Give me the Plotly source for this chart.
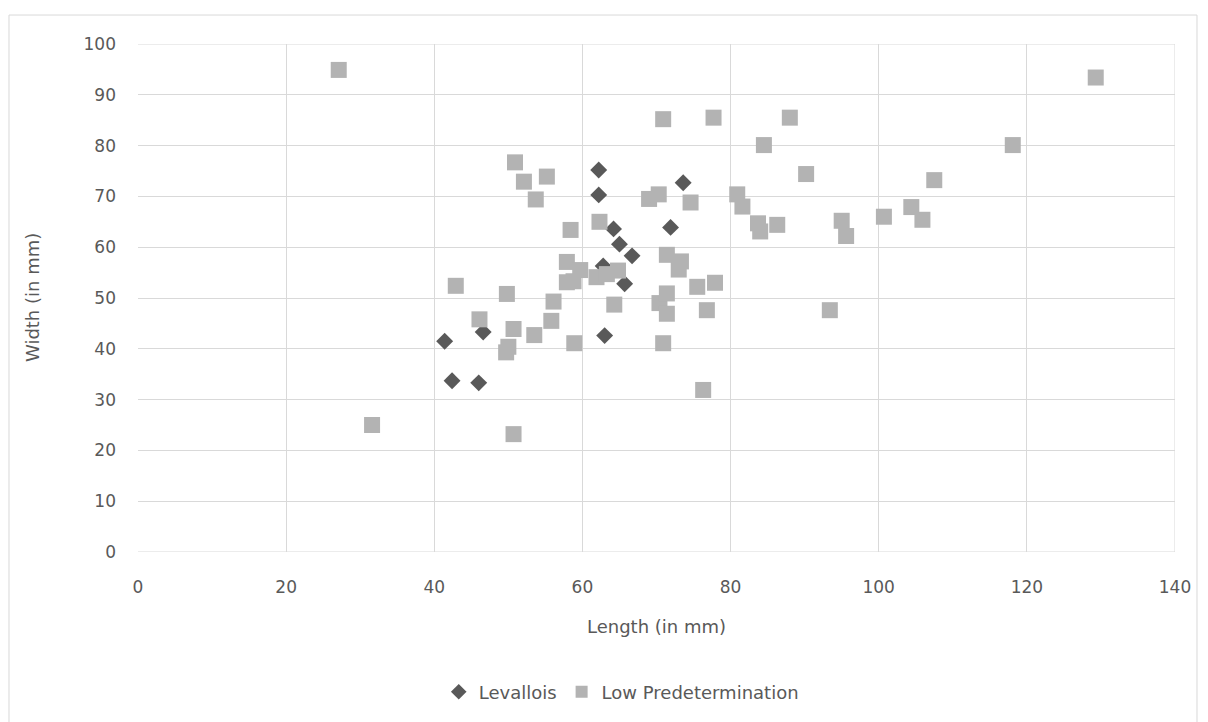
import plotly.graph_objects as go

# Levallois (length, width in mm)
lev_length = [41.4, 46.6, 42.4, 46.0, 63.0, 65.7, 62.2, 62.2, 73.6, 64.2, 71.9, 65.0, 66.7, 62.8]
lev_width = [41.5, 43.3, 33.7, 33.3, 42.6, 52.8, 75.2, 70.3, 72.7, 63.6, 63.9, 60.6, 58.3, 56.3]

# Low Predetermination (length, width in mm)
low_length = [27.1, 31.6, 42.9, 46.1, 49.8, 50.0, 49.7, 50.7, 50.7, 50.9,
              52.1, 53.5, 53.7, 55.2, 55.8, 56.1, 57.9, 59.7, 57.9, 58.8,
              58.4, 58.9, 61.9, 62.3, 63.3, 64.8, 64.3, 69.0, 70.3, 70.9,
              70.9, 70.4, 71.4, 71.4, 71.4, 73.3, 73.0, 74.6, 75.5, 76.3,
              76.8, 77.7, 77.9, 80.9, 81.6, 83.7, 84.0, 84.5, 86.3, 88.0,
              90.2, 93.4, 95.0, 95.6, 100.7, 104.4, 105.9, 107.5, 118.1, 129.3]
low_width = [94.9, 25.0, 52.4, 45.8, 50.8, 40.4, 39.3, 43.9, 23.2, 76.7,
             72.9, 42.7, 69.4, 73.9, 45.5, 49.3, 57.1, 55.5, 53.1, 53.3,
             63.4, 41.1, 54.1, 65.0, 54.7, 55.4, 48.7, 69.5, 70.4, 85.2,
             41.1, 49.0, 58.5, 50.9, 46.9, 57.2, 55.6, 68.8, 52.2, 31.9,
             47.6, 85.5, 53.0, 70.4, 68.0, 64.7, 63.1, 80.1, 64.4, 85.5,
             74.4, 47.6, 65.2, 62.2, 66.0, 67.9, 65.4, 73.2, 80.1, 93.4]

x_ticks = [0, 20, 40, 60, 80, 100, 120, 140]
y_ticks = [0, 10, 20, 30, 40, 50, 60, 70, 80, 90, 100]

FONT = "DejaVu Sans"
TXT = "#595959"
GRID = "#d9d9d9"

fig = go.Figure()
fig.add_trace(go.Scatter(
    x=lev_length, y=lev_width, mode="markers", name="Levallois",
    marker=dict(symbol="diamond", size=13, color="#595959", line=dict(width=0)),
))
fig.add_trace(go.Scatter(
    x=low_length, y=low_width, mode="markers", name="Low Predetermination",
    marker=dict(symbol="square", size=16, color="#b3b3b3", line=dict(width=0)),
))

fig.update_layout(
    width=1200, height=714,
    margin=dict(l=130, r=33, t=36, b=170),
    paper_bgcolor="white", plot_bgcolor="white",
    font=dict(family=FONT, size=16, color=TXT),
    showlegend=True,
    legend=dict(orientation="h", x=0.466, xanchor="center", y=-0.2756, yanchor="middle",
                font=dict(family=FONT, size=18, color=TXT), itemsizing="constant",
                itemwidth=30, tracegroupgap=0),
    xaxis=dict(range=[0, 140], tickvals=x_ticks, showgrid=True, gridcolor=GRID, gridwidth=1,
               zeroline=False, showline=False, ticks="", tickfont=dict(size=17, color=TXT),
               ticklabelstandoff=23, fixedrange=True),
    yaxis=dict(range=[0, 100], tickvals=y_ticks, showgrid=True, gridcolor=GRID, gridwidth=1,
               zeroline=False, showline=False, ticks="", tickfont=dict(size=17, color=TXT),
               ticklabelstandoff=21, fixedrange=True),
    annotations=[
        dict(text="Length (in mm)", xref="paper", yref="paper", x=0.5, y=-0.1476,
             xanchor="center", yanchor="middle", showarrow=False,
             font=dict(family=FONT, size=18, color=TXT)),
        dict(text="Width (in mm)", xref="paper", yref="paper", x=-0.1022, y=0.5,
             xanchor="center", yanchor="middle", showarrow=False, textangle=-90,
             font=dict(family=FONT, size=18, color=TXT)),
    ],
    shapes=[
        dict(type="line", xref="x", yref="y", x0=0, x1=140, y0=0, y1=0,
             line=dict(color=GRID, width=1)),
        dict(type="line", xref="x", yref="y", x0=140, x1=140, y0=0, y1=100,
             line=dict(color=GRID, width=1)),
        dict(type="line", xref="x", yref="y", x0=0, x1=140, y0=100, y1=100,
             line=dict(color=GRID, width=1)),
        dict(type="rect", xref="paper", yref="paper", x0=-0.1244, x1=1.0212,
             y0=-0.40, y1=1.057, line=dict(color=GRID, width=1), layer="below"),
    ],
)

fig.write_html("out.html")
